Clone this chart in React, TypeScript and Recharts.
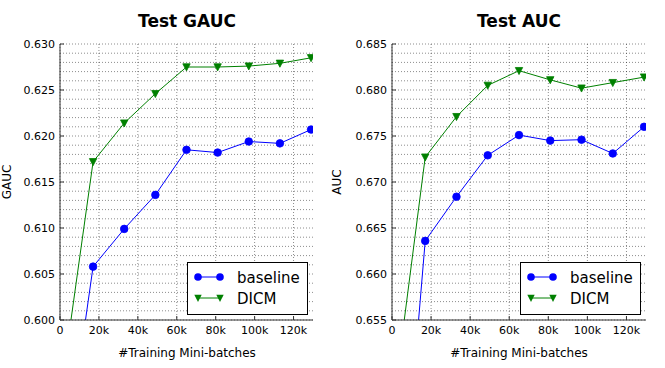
import React from 'react';
import { LineChart, Line, XAxis, YAxis, CartesianGrid } from 'recharts';

// training steps where each evaluation was logged
const batches = [1000, 17000, 33000, 49000, 65000, 81000, 97000, 113000, 129000];
const xTicks = [0, 20000, 40000, 60000, 80000, 100000, 120000];

const gaucBaseline = [0.582, 0.6058, 0.6099, 0.6136, 0.6185, 0.6182, 0.6194, 0.6192, 0.6207];
const gaucDicm = [0.593, 0.6172, 0.6214, 0.6246, 0.6275, 0.6275, 0.6276, 0.6279, 0.6285];
const aucBaseline = [0.6231, 0.6636, 0.6684, 0.6729, 0.6751, 0.6745, 0.6746, 0.6731, 0.676];
const aucDicm = [0.6463, 0.6727, 0.6771, 0.6805, 0.6821, 0.6811, 0.6802, 0.6808, 0.6814];

const gaucTicks = [0.6, 0.605, 0.61, 0.615, 0.62, 0.625, 0.63];
const aucTicks = [0.655, 0.66, 0.665, 0.67, 0.675, 0.68, 0.685];

const BLUE = '#0000ff';
const GREEN = '#008000';
const FONT = '"DejaVu Sans", sans-serif';
const FRAME = '#333';
const X_MAX = 130000;

const series = [
  { key: 'baseline', name: 'baseline', color: BLUE, shape: 'circle' },
  { key: 'dicm', name: 'DICM', color: GREEN, shape: 'triangle' },
];

const minorGrid = (lo: number, hi: number) => {
  const n = Math.round((hi - lo) / 0.001);
  return Array.from({ length: n + 1 }, (_, i) => +(lo + i * 0.001).toFixed(3));
};

const kFormat = (v: number) => (v === 0 ? '0' : `${v / 1000}k`);

const TriangleDot = (props: any) => {
  const { cx, cy, index } = props;
  if (cx == null || cy == null) return <g key={`t-${index}`} />;
  return (
    <path
      key={`t-${index}`}
      d={`M${cx - 3.7},${cy - 3.2} L${cx + 3.7},${cy - 3.2} L${cx},${cy + 3.9} Z`}
      fill={GREEN}
      stroke={GREEN}
      strokeWidth={0.8}
    />
  );
};

interface PanelProps {
  baseline: number[];
  dicm: number[];
  yTicks: number[];
  width: number;
}

const Panel: React.FC<PanelProps> = ({ baseline, dicm, yTicks, width }) => {
  const data = batches.map((x, i) => ({ x, baseline: baseline[i], dicm: dicm[i] }));
  const lo = yTicks[0];
  const hi = yTicks[yTicks.length - 1];
  const tickStyle = { fill: '#000', fontSize: 11, fontFamily: FONT };
  return (
    <LineChart width={width} height={368} data={data} margin={{ top: 44, right: 19, bottom: 0, left: 0 }}>
      <CartesianGrid
        horizontalValues={minorGrid(lo, hi)}
        verticalValues={xTicks}
        stroke="#000"
        strokeOpacity={0.45}
        strokeDasharray="1 2"
      />
      <XAxis
        dataKey="x"
        type="number"
        domain={[0, X_MAX]}
        ticks={xTicks}
        interval={0}
        tickFormatter={kFormat}
        height={48}
        tickSize={-4}
        tickMargin={10}
        axisLine={{ stroke: FRAME }}
        tickLine={{ stroke: FRAME }}
        tick={tickStyle}
        allowDataOverflow
      />
      <XAxis
        xAxisId="top"
        orientation="top"
        dataKey="x"
        type="number"
        domain={[0, X_MAX]}
        ticks={xTicks}
        interval={0}
        tickFormatter={() => ''}
        height={0}
        tickSize={-4}
        axisLine={{ stroke: FRAME }}
        tickLine={{ stroke: FRAME }}
      />
      <YAxis
        type="number"
        domain={[lo, hi]}
        ticks={yTicks}
        interval={0}
        tickFormatter={(v: number) => v.toFixed(3)}
        width={60}
        tickSize={-4}
        tickMargin={9}
        axisLine={{ stroke: FRAME }}
        tickLine={{ stroke: FRAME }}
        tick={tickStyle}
        allowDataOverflow
      />
      <YAxis
        yAxisId="right"
        orientation="right"
        type="number"
        domain={[lo, hi]}
        ticks={yTicks}
        interval={0}
        tickFormatter={() => ''}
        width={0}
        tickSize={-4}
        axisLine={{ stroke: FRAME }}
        tickLine={{ stroke: FRAME }}
      />
      <Line
        dataKey="baseline"
        name="baseline"
        stroke={BLUE}
        strokeWidth={1}
        dot={{ r: 3.8, fill: BLUE, stroke: BLUE, strokeWidth: 0.8 }}
        activeDot={false}
        isAnimationActive={false}
      />
      <Line
        dataKey="dicm"
        name="DICM"
        stroke={GREEN}
        strokeWidth={1}
        dot={TriangleDot}
        activeDot={false}
        isAnimationActive={false}
      />
    </LineChart>
  );
};

const LegendBox = ({ x, y }: { x: number; y: number }) => (
  <g>
    <rect x={x + 0.5} y={y + 0.5} width={120} height={52} fill="#fff" stroke="#000" strokeWidth={1} />
    {series.map((s, i) => {
      const ry = y + 15 + i * 21;
      const mark = (mx: number) =>
        s.shape === 'circle' ? (
          <circle cx={mx} cy={ry} r={3.8} fill={s.color} />
        ) : (
          <path d={`M${mx - 3.7},${ry - 3.2} L${mx + 3.7},${ry - 3.2} L${mx},${ry + 3.9} Z`} fill={s.color} />
        );
      return (
        <g key={s.key}>
          <line x1={x + 11} x2={x + 33} y1={ry} y2={ry} stroke={s.color} strokeWidth={1} />
          {mark(x + 11)}
          {mark(x + 33)}
          <text x={x + 50} y={ry + 5.5} fontSize={15} fontFamily={FONT} fill="#000">
            {s.name}
          </text>
        </g>
      );
    })}
  </g>
);

export default function App() {
  return (
    <div style={{ position: 'absolute', left: 0, top: 0, width: 665, height: 368, background: '#fff' }}>
      <div style={{ position: 'absolute', left: 0, top: 0 }}>
        <Panel baseline={gaucBaseline} dicm={gaucDicm} yTicks={gaucTicks} width={332} />
      </div>
      <div style={{ position: 'absolute', left: 332, top: 0 }}>
        <Panel baseline={aucBaseline} dicm={aucDicm} yTicks={aucTicks} width={333} />
      </div>
      <svg width={665} height={368} style={{ position: 'absolute', left: 0, top: 0, pointerEvents: 'none' }}>
        <text x={187} y={27} textAnchor="middle" fontSize={17} fontWeight="bold" fontFamily={FONT}>
          Test GAUC
        </text>
        <text x={519} y={27} textAnchor="middle" fontSize={17} fontWeight="bold" fontFamily={FONT}>
          Test AUC
        </text>
        <text x={187} y={357} textAnchor="middle" fontSize={12} fontFamily={FONT}>
          #Training Mini-batches
        </text>
        <text x={519} y={357} textAnchor="middle" fontSize={12} fontFamily={FONT}>
          #Training Mini-batches
        </text>
        <text transform="translate(10.5,182) rotate(-90)" textAnchor="middle" fontSize={12} fontFamily={FONT}>
          GAUC
        </text>
        <text transform="translate(341,182) rotate(-90)" textAnchor="middle" fontSize={12} fontFamily={FONT}>
          AUC
        </text>
        <LegendBox x={187} y={262} />
        <LegendBox x={520} y={262} />
      </svg>
    </div>
  );
}
